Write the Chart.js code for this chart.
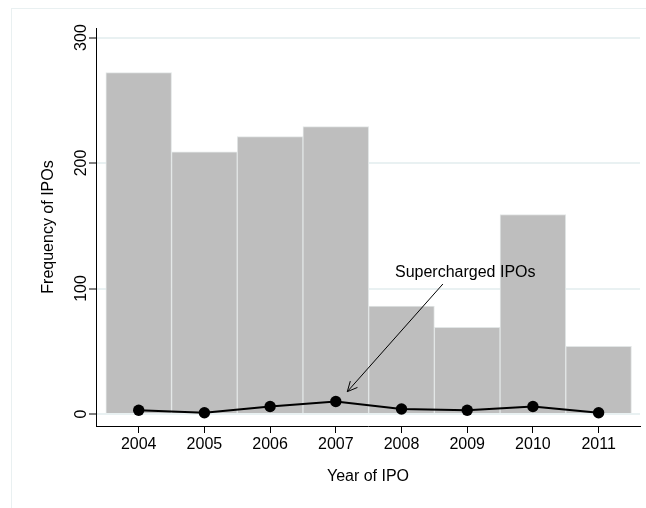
<!DOCTYPE html>
<html>
<head>
<meta charset="utf-8">
<script src="https://cdn.jsdelivr.net/npm/chart.js@4/dist/chart.umd.min.js"></script>
<style>
    html, body { margin: 0; padding: 0; background: #fff; }
    #wrap { width: 646px; height: 508px; }
</style>
</head>
<body>
<div id="wrap"><canvas id="ipoChart" width="646" height="508"></canvas></div>
<script>
// values
const years = [2004, 2005, 2006, 2007, 2008, 2009, 2010, 2011];
const allIpos = [272, 209, 221, 229, 86, 69, 159, 54];
const superchargedIpos = [3, 1, 6, 10, 4, 3, 6, 1];
const yTickValues = [0, 100, 200, 300];

const FONT = "'Liberation Sans', Arial, Helvetica, sans-serif";

// draws the frame, rotated y labels, titles and the arrow note
const textPlugin = {
    id: "stataText",
    beforeDraw(chart) {
        const ctx = chart.ctx;
        ctx.save();
        ctx.fillStyle = "#fff";
        ctx.fillRect(0, 0, chart.width, chart.height);
        ctx.strokeStyle = "#e9f0f1";
        ctx.lineWidth = 1;
        ctx.strokeRect(11.5, 8.5, 700, 700);
        ctx.restore();
    },
    afterDraw(chart) {
        const ctx = chart.ctx;
        const xs = chart.scales.x;
        const ys = chart.scales.y;
        ctx.save();
        ctx.fillStyle = "#000";
        ctx.font = "16px " + FONT;

        // y tick labels, rotated
        yTickValues.forEach((v) => {
            ctx.save();
            ctx.translate(82, ys.getPixelForValue(v));
            ctx.rotate(-Math.PI / 2);
            ctx.textAlign = "center";
            ctx.textBaseline = "middle";
            ctx.fillText(String(v), 0, 0);
            ctx.restore();
        });

        // x tick labels
        ctx.textAlign = "center";
        ctx.textBaseline = "alphabetic";
        years.forEach((yr) => {
            ctx.fillText(String(yr), xs.getPixelForValue(yr), 449);
        });

        // axis titles
        const area = chart.chartArea;
        ctx.fillText("Year of IPO", (area.left + area.right) / 2, 481);
        ctx.save();
        ctx.translate(49, (area.top + area.bottom) / 2);
        ctx.rotate(-Math.PI / 2);
        ctx.textBaseline = "middle";
        ctx.fillText("Frequency of IPOs", 0, 0);
        ctx.restore();

        // note with arrow
        ctx.textBaseline = "middle";
        ctx.fillText("Supercharged IPOs", xs.getPixelForValue(2008.97), ys.getPixelForValue(112.4));
        const x1 = xs.getPixelForValue(2008.63), y1 = ys.getPixelForValue(103.6);
        const x2 = xs.getPixelForValue(2007.175), y2 = ys.getPixelForValue(17.8);
        ctx.strokeStyle = "#000";
        ctx.lineWidth = 1;
        ctx.beginPath();
        ctx.moveTo(x1, y1);
        ctx.lineTo(x2, y2);
        const ang = Math.atan2(y2 - y1, x2 - x1);
        const head = 11;
        ctx.moveTo(x2 - head * Math.cos(ang - 0.45), y2 - head * Math.sin(ang - 0.45));
        ctx.lineTo(x2, y2);
        ctx.lineTo(x2 - head * Math.cos(ang + 0.45), y2 - head * Math.sin(ang + 0.45));
        ctx.stroke();
        ctx.restore();
    },
};

document.addEventListener("DOMContentLoaded", () => {
    const ctx = document.getElementById("ipoChart").getContext("2d");
    new Chart(ctx, {
        type: "bar",
        data: {
            datasets: [
                {
                    type: "line",
                    label: "Supercharged IPOs",
                    data: years.map((yr, i) => ({ x: yr, y: superchargedIpos[i] })),
                    borderColor: "#000",
                    borderWidth: 2,
                    backgroundColor: "#000",
                    pointRadius: 5.7,
                    pointBorderWidth: 0,
                    tension: 0,
                    order: 0,
                },
                {
                    label: "All IPOs",
                    data: years.map((yr, i) => ({ x: yr, y: allIpos[i] })),
                    backgroundColor: "#bebebe",
                    borderColor: "#e2e6e6",
                    borderWidth: 1,
                    barPercentage: 1,
                    categoryPercentage: 1,
                    order: 1,
                },
            ],
        },
        options: {
            responsive: false,
            animation: false,
            events: [],
            layout: { padding: { left: 0, right: 6, top: 28, bottom: 0 } },
            plugins: {
                legend: { display: false },
                tooltip: { enabled: false },
            },
            scales: {
                x: {
                    type: "linear",
                    offset: false,
                    min: 2003.35,
                    max: 2011.63,
                    afterBuildTicks: (scale) => {
                        scale.ticks = years.map((v) => ({ value: v }));
                    },
                    afterFit: (scale) => { scale.height = 82; },
                    ticks: { display: false },
                    grid: {
                        offset: false,
                        drawOnChartArea: false,
                        drawTicks: true,
                        tickLength: 7,
                        tickColor: "#000",
                        tickWidth: 1,
                    },
                    border: { display: true, color: "#000", width: 1 },
                },
                y: {
                    min: -9.56,
                    max: 307.6,
                    afterBuildTicks: (scale) => {
                        scale.ticks = yTickValues.map((v) => ({ value: v }));
                    },
                    afterFit: (scale) => { scale.width = 96; },
                    ticks: { display: false },
                    grid: {
                        color: "#e9f1f2",
                        lineWidth: 2,
                        drawTicks: true,
                        tickLength: 7,
                        tickColor: "#000",
                        tickWidth: 1,
                    },
                    border: { display: true, color: "#000", width: 1 },
                },
            },
        },
        plugins: [textPlugin],
    });
});
</script>
</body>
</html>
